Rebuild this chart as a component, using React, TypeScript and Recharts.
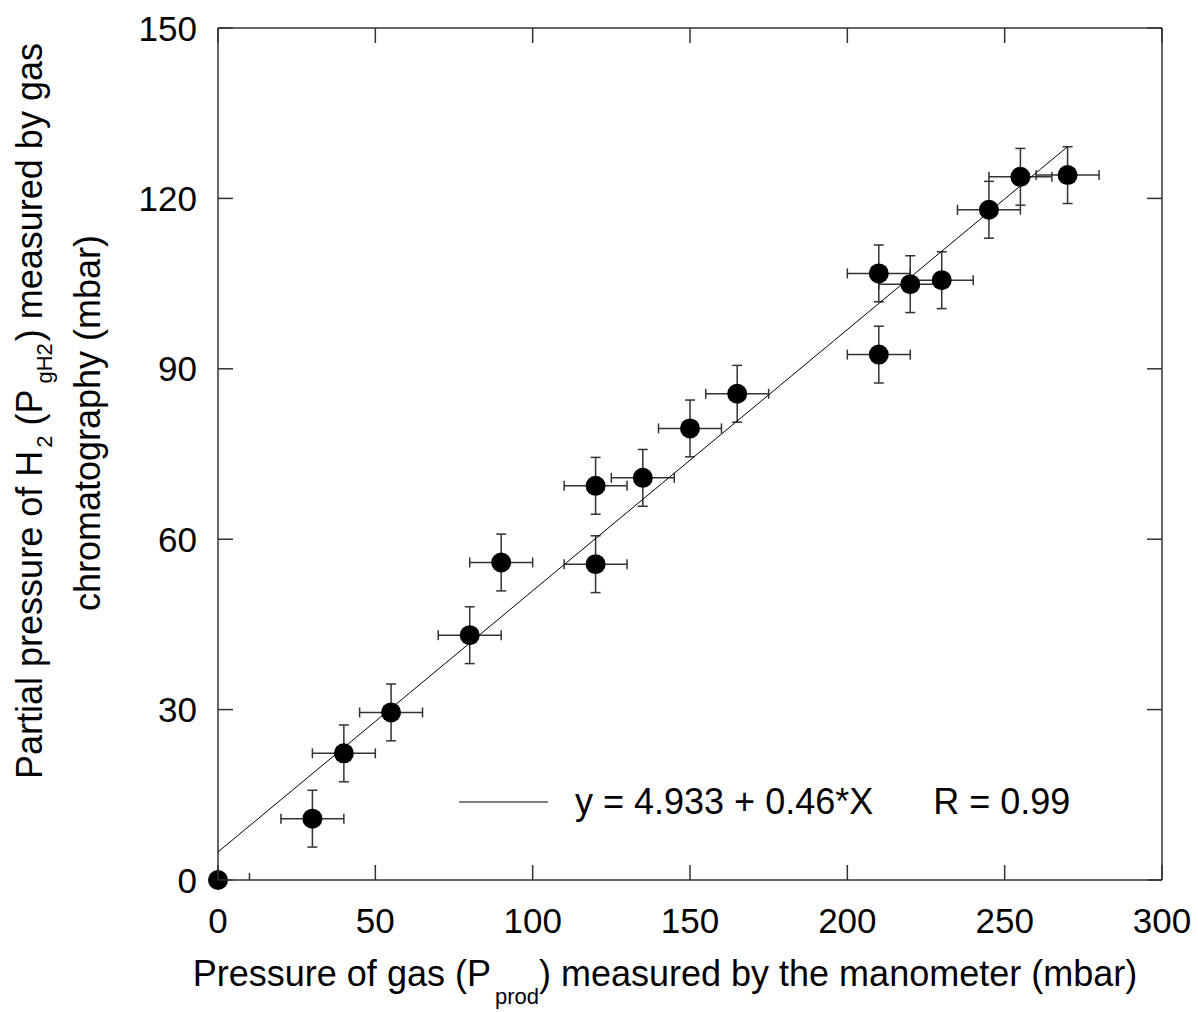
import { ScatterChart, Scatter, XAxis, YAxis, ErrorBar, Legend } from "recharts";

// measured points (mbar)
const xVals = [0, 30, 40, 55, 80, 90, 120, 120, 135, 150, 165, 210, 210, 220, 230, 245, 255, 270];
const yVals = [0, 10.8, 22.3, 29.5, 43.1, 55.9, 55.6, 69.4, 70.8, 79.5, 85.6, 92.5, 106.8, 104.9, 105.6, 118.0, 123.8, 124.1];
const xErr = [0, 10, 10, 10, 10, 10, 10, 10, 10, 10, 10, 10, 10, 10, 10, 10, 10, 10];
const yErr = [0, 5, 5, 5, 5, 5, 5, 5, 5, 5, 5, 5, 5, 5, 5, 5, 5, 5];

// linear fit endpoints: y = 4.933 + 0.46*X
const fitX = [0, 270];
const fitY = [4.933, 129.1];

const xTicks = [0, 50, 100, 150, 200, 250, 300];
const xBottomTicks = [0, 10, 50, 100, 150, 200, 250, 300]; // stray short tick at 10 in the original
const yTicks = [0, 30, 60, 90, 120, 150];

const points = xVals.map((x, i) => ({ x, y: yVals[i], ex: xErr[i], ey: yErr[i] }));
const fitData = fitX.map((x, i) => ({ x, y: fitY[i] }));

const FONT = "'Liberation Sans', Arial, Helvetica, sans-serif";
const AXIS = "#333";
const TICK = 15;

const Dot = (p: any) => <circle cx={p.cx} cy={p.cy} r={10} fill="#000" />;

// ticks point inward, labels outside
const BottomTick = (p: any) => {
  const major = xTicks.includes(p.payload.value);
  return (
    <g>
      <line x1={p.x} y1={p.y} x2={p.x} y2={p.y - (major ? TICK : 7)} stroke={AXIS} strokeWidth={1.5} />
      {major && (
        <text x={p.x} y={p.y + 53} textAnchor="middle" fontSize={35} fontFamily={FONT} fill="#000">
          {p.payload.value}
        </text>
      )}
    </g>
  );
};
const LeftTick = (p: any) => (
  <g>
    <line x1={p.x} y1={p.y} x2={p.x + TICK} y2={p.y} stroke={AXIS} strokeWidth={1.5} />
    <text x={p.x - 21} y={p.y} dy="0.36em" textAnchor="end" fontSize={35} fontFamily={FONT} fill="#000">
      {p.payload.value}
    </text>
  </g>
);
const TopTick = (p: any) => (
  <line x1={p.x} y1={p.y} x2={p.x} y2={p.y + TICK} stroke={AXIS} strokeWidth={1.5} />
);
const RightTick = (p: any) => (
  <line x1={p.x} y1={p.y} x2={p.x - TICK} y2={p.y} stroke={AXIS} strokeWidth={1.5} />
);

const XTitle = () => (
  <text x={665} y={986} textAnchor="middle" fontSize={36} fontFamily={FONT} fill="#000">
    Pressure of gas (P
    <tspan fontSize={22} dy={18} dx={4}>prod</tspan>
    <tspan dy={-18}>) measured by the manometer (mbar)</tspan>
  </text>
);

const YTitle = () => (
  <g fontFamily={FONT} fill="#000">
    <text transform="rotate(-90)" x={-411} y={42} textAnchor="middle" fontSize={36}>
      Partial pressure of H
      <tspan fontSize={22} dy={10} dx={3}>2</tspan>
      <tspan dy={-10} dx={10}>(P</tspan>
      <tspan fontSize={22} dy={10} dx={6}>gH2</tspan>
      <tspan dy={-10} dx={2}>) measured by gas</tspan>
    </text>
    <text transform="rotate(-90)" x={-423} y={100} textAnchor="middle" fontSize={36}>
      chromatography (mbar)
    </text>
  </g>
);

const FitLegend = () => (
  <div style={{ display: "flex", alignItems: "center", fontFamily: FONT, fontSize: 36, color: "#000", whiteSpace: "pre" }}>
    <svg width={89} height={4} style={{ marginRight: 27 }}>
      <line x1={0} y1={2} x2={89} y2={2} stroke="#000" strokeWidth={1} />
    </svg>
    <span>y = 4.933 + 0.46*X</span>
    <span style={{ marginLeft: 60 }}>R = 0.99</span>
  </div>
);

export default function App() {
  return (
    <div style={{ position: "absolute", left: 0, top: 0 }}>
      <ScatterChart width={1198} height={1012} margin={{ top: 27, right: 35, bottom: 72, left: 138 }}>
        <XAxis
          dataKey="x"
          type="number"
          domain={[0, 300]}
          ticks={xBottomTicks}
          interval={0}
          height={60}
          tickSize={0}
          tickMargin={0}
          tickLine={false}
          axisLine={{ stroke: AXIS, strokeWidth: 1.5 }}
          tick={BottomTick}
          label={{ content: XTitle }}
        />
        <XAxis
          xAxisId="top"
          orientation="top"
          dataKey="x"
          type="number"
          domain={[0, 300]}
          ticks={xTicks}
          interval={0}
          height={1}
          tickSize={0}
          tickMargin={0}
          tickLine={false}
          axisLine={{ stroke: AXIS, strokeWidth: 1.5 }}
          tick={TopTick}
        />
        <YAxis
          dataKey="y"
          type="number"
          domain={[0, 150]}
          ticks={yTicks}
          interval={0}
          width={80}
          tickSize={0}
          tickMargin={0}
          tickLine={false}
          axisLine={{ stroke: AXIS, strokeWidth: 1.5 }}
          tick={LeftTick}
          label={{ content: YTitle }}
        />
        <YAxis
          yAxisId="right"
          orientation="right"
          dataKey="y"
          type="number"
          domain={[0, 150]}
          ticks={yTicks}
          interval={0}
          width={1}
          tickSize={0}
          tickMargin={0}
          tickLine={false}
          axisLine={{ stroke: AXIS, strokeWidth: 1.5 }}
          tick={RightTick}
        />
        <Scatter
          data={fitData}
          xAxisId="top"
          yAxisId="right"
          line={{ stroke: "#000", strokeWidth: 1 }}
          shape={() => <g />}
          legendType="none"
          isAnimationActive={false}
        />
        <Scatter data={points} shape={Dot} isAnimationActive={false}>
          <ErrorBar dataKey="ex" direction="x" width={5} stroke={AXIS} strokeWidth={1.5} isAnimationActive={false} />
          <ErrorBar dataKey="ey" direction="y" width={5} stroke={AXIS} strokeWidth={1.5} isAnimationActive={false} />
        </Scatter>
        <Legend
          verticalAlign="middle"
          align="center"
          wrapperStyle={{ left: 459, top: 781, width: 700, height: 44 }}
          content={FitLegend}
        />
      </ScatterChart>
    </div>
  );
}
